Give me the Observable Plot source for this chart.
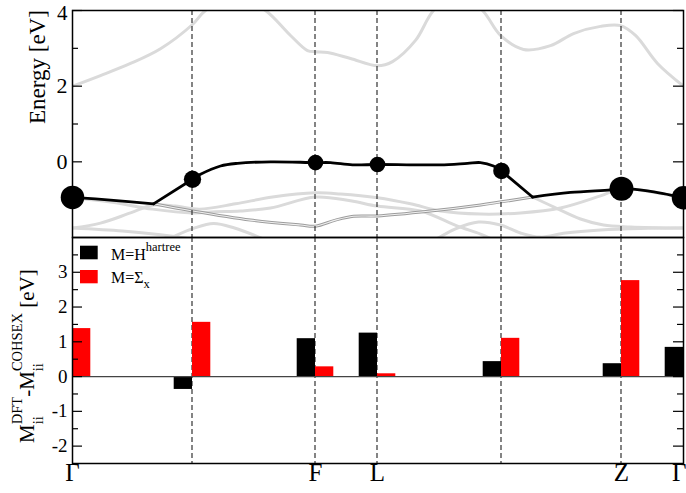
<!DOCTYPE html>
<html><head><meta charset="utf-8">
<script src="https://cdn.jsdelivr.net/npm/d3@7"></script>
<script src="https://cdn.jsdelivr.net/npm/@observablehq/plot@0.6"></script>
<style>
body{margin:0;background:#fff}
#chart{width:686px;height:493px;overflow:hidden}
#chart svg{display:block}
</style>
</head><body><div id="chart"></div>
<script>
// ---------- k-path ----------
const kAxisLabels = ["Γ","F","L","Z","Γ"];
const kAxisPos = [0,243,305,549,611];
const kSymPos = [120,243,305,429,549];          // dashed vertical lines
const kPoints = [0,120,243,305,429,549,611];    // points where the band / bars are evaluated

// ---------- top panel: band structure (eV) ----------
const cbK = [0,28,58,88,120,133,163,193,218,235,243,255,278,305,320,343,361,385,410,428,451,478,501,528,548,563,585,611];
const cbE = [2.0,2.28,2.60,2.99,3.63,4.0,4.40,4.0,3.34,2.94,2.91,2.89,2.73,2.54,2.65,3.21,4.0,4.48,4.0,3.34,2.97,3.07,3.39,3.58,3.60,3.34,2.60,2.0];

const g1K = [0,38,80,120,143,168,198,243,278,305,348,385,408,423];
const g1E = [-0.95,-1.06,-1.25,-1.35,-1.32,-1.30,-1.22,-0.93,-1.03,-1.17,-1.30,-1.70,-1.91,-2.09];
const g2K = [0,28,58,81,103,127,163,200,243,268,305,338,368,408,448,488,528,549,578,611];
const g2E = [-1.75,-1.62,-1.35,-1.14,-1.17,-1.25,-1.11,-0.93,-0.82,-0.85,-0.95,-1.11,-1.30,-1.38,-1.35,-1.22,-0.90,-0.71,-0.79,-0.95];
const g3K = [460,481,508,531,558,611];
const g3E = [-0.93,-1.19,-1.51,-1.67,-1.72,-1.75];
const g4K = [0,50,88,118,140];
const g4E = [-1.75,-1.83,-1.93,-2.04,-2.15];
const g5K = [95,121,141,162,190];
const g5E = [-2.05,-1.76,-1.63,-1.75,-2.03];
const g6K = [361,383,406,428,448,468,493,528,568,611];
const g6E = [-2.09,-1.77,-1.59,-1.67,-1.88,-1.99,-1.88,-1.80,-1.76,-1.75];

const dblK = [81,120,178,228,243,263,281,305,358,408,460];
const dblE = [-1.11,-1.30,-1.54,-1.67,-1.70,-1.54,-1.44,-1.43,-1.30,-1.14,-0.93];

const hbK = [0,38,81, 81,120, 120,128,148,165,198,243,258,280,305,340,368,395,408,421,429, 429,460, 460,498,538,549,575,611];
const hbE = [-0.94,-1.01,-1.11, -1.11,-0.46, -0.46,-0.33,-0.11,-0.04,0.0,-0.02,-0.02,-0.08,-0.07,-0.08,-0.08,-0.04,-0.02,-0.11,-0.24, -0.24,-0.93, -0.93,-0.81,-0.74,-0.71,-0.77,-0.95];
const hbPart = [1,1,1, 2,2, 3,3,3,3,3,3,3,3,3,3,3,3,3,3,3, 4,4, 5,5,5,5,5,5];
const straightParts = [2,4];

const dotE = [-0.94,-0.46,-0.02,-0.07,-0.24,-0.71,-0.95];
const dotWeight = [0.98,0.72,0.65,0.65,0.69,1.0,0.98];

const topMajor = [0,2,4];
const topMinor = [-1,1,3];

// ---------- bottom panel: M_ii^DFT - M_ii^COHSEX (eV) ----------
const hartree = [0.84,-0.37,1.09,1.25,0.43,0.37,0.84];
const sigmaX  = [1.38,1.56,0.28,0.08,1.10,2.76,1.38];
const botMajor = [-2,-1,0,1,2,3];
const botMajorLabels = ["-2","-1","0","1","2","3"];
const botMinor = [-1.5,-0.5,0.5,1.5,2.5,3.5];

// ---------- build ----------
const kMin = 0, kMax = 611, majLen = 10, minLen = 6, barW = 18.3;
const serif = "'Liberation Serif', 'Times New Roman', serif";
const rec = (ks, es, id) => ks.map((k,i)=>({k, E: es[i], id}));
const grayData = [].concat(rec(g1K,g1E,"g1"),rec(g2K,g2E,"g2"),rec(g3K,g3E,"g3"),rec(g4K,g4E,"g4"),rec(g5K,g5E,"g5"),rec(g6K,g6E,"g6"));
const cbData = rec(cbK, cbE, "cb");
const dblData = rec(dblK, dblE, "d");
const hbData = hbK.map((k,i)=>({k, E: hbE[i], part: hbPart[i]}));
const dots = kPoints.map((k,i)=>({k, E: dotE[i], w: dotWeight[i]}));

function tickMarks(major, minor){
  return [
    Plot.ruleY(major, {y: d=>d, x1: kMin, x2: kMin+majLen, stroke:"black", strokeWidth:1.2}),
    Plot.ruleY(major, {y: d=>d, x1: kMax-majLen, x2: kMax, stroke:"black", strokeWidth:1.2}),
    Plot.ruleY(minor, {y: d=>d, x1: kMin, x2: kMin+minLen, stroke:"black", strokeWidth:1.2}),
    Plot.ruleY(minor, {y: d=>d, x1: kMax-minLen, x2: kMax, stroke:"black", strokeWidth:1.2})
  ];
}

const topPlot = Plot.plot({
  width: 686, height: 237, marginLeft: 72, marginRight: 3, marginTop: 10, marginBottom: 0,
  x: {domain: [kMin, kMax], axis: null},
  y: {domain: [-2, 4], axis: null},
  r: {type: "linear", domain: [0, 1], range: [0, 12]},
  style: {fontFamily: serif, background: "white", overflow: "visible", color: "black"},
  marks: [
    Plot.line(grayData, {x:"k", y:"E", z:"id", curve:"catmull-rom", stroke:"#dadada", strokeWidth:3, clip:true}),
    Plot.line(cbData, {x:"k", y:"E", curve:"catmull-rom", stroke:"#dadada", strokeWidth:3, clip:true}),
    Plot.line(dblData, {x:"k", y:"E", curve:"catmull-rom", stroke:"#9c9c9c", strokeWidth:3, clip:true}),
    Plot.line(dblData, {x:"k", y:"E", curve:"catmull-rom", stroke:"#f0f0f0", strokeWidth:1.1, clip:true}),
    Plot.ruleX(kSymPos, {stroke:"#333", strokeWidth:1.2, strokeDasharray:"5,3", dx:-0.5}),
    Plot.line(hbData.filter(d=>!straightParts.includes(d.part)), {x:"k", y:"E", z:"part", curve:"catmull-rom", stroke:"black", strokeWidth:2.8}),
    Plot.line(hbData.filter(d=>straightParts.includes(d.part)), {x:"k", y:"E", z:"part", curve:"linear", stroke:"black", strokeWidth:2.8}),
    Plot.dot(dots, {x:"k", y:"E", r:"w", fill:"black"}),
    ...tickMarks(topMajor, topMinor),
    Plot.frame({stroke:"black", strokeWidth:1.5}),
    Plot.text(topMajor.filter(d=>d<4), {y: d=>d, text: d=>String(d), frameAnchor:"left", textAnchor:"end", dx:-5, fontSize:22, fill:"black"}),
    Plot.text(topMajor.filter(d=>d===4), {y: d=>d, text: d=>String(d), frameAnchor:"left", textAnchor:"end", lineAnchor:"top", dx:-5, dy:-5, fontSize:21, fill:"black"}),
    Plot.text(["Energy [eV]"], {text: d=>d, frameAnchor:"left", rotate:-90, dx:-35, fontSize:23, fill:"black"})
  ]
});

const hartreeData = kPoints.map((k,i)=>({k, v: hartree[i]}));
const sigmaData = kPoints.map((k,i)=>({k, v: sigmaX[i]}));
const xLab = kAxisPos.map((k,i)=>({k, s: kAxisLabels[i], last: i === kAxisPos.length-1}));

const bottomPlot = Plot.plot({
  width: 686, height: 256, marginLeft: 72, marginRight: 3, marginTop: 0, marginBottom: 30,
  x: {domain: [kMin, kMax], axis: null},
  y: {domain: [-2.5, 4], axis: null},
  style: {fontFamily: serif, background: "white", overflow: "visible", color: "black"},
  marks: [
    Plot.ruleX(kSymPos, {stroke:"#333", strokeWidth:1.2, strokeDasharray:"5,3", dx:-0.5}),
    Plot.rect(hartreeData, {x1: d=>d.k-barW, x2: d=>d.k, y1: 0, y2: "v", fill:"black", clip:true}),
    Plot.rect(sigmaData, {x1: d=>d.k, x2: d=>d.k+barW, y1: 0, y2: "v", fill:"#ff0000", clip:true}),
    Plot.ruleY([0], {stroke:"#444", strokeWidth:1.4}),
    ...tickMarks(botMajor, botMinor),
    Plot.frame({stroke:"black", strokeWidth:1.5}),
    Plot.text(botMajor, {y: d=>d, text: (d,i)=>botMajorLabels[i], frameAnchor:"left", textAnchor:"end", dx:-5, fontSize:19, fill:"black"}),
    Plot.text(xLab.filter(d=>!d.last), {x:"k", text:"s", frameAnchor:"bottom", dy:17, fontSize:25, fill:"black"}),
    Plot.text(xLab.filter(d=>d.last), {x:"k", text:"s", frameAnchor:"bottom", dy:17, dx:3, textAnchor:"end", fontSize:25, fill:"black"})
  ]
});

// legend + rich y label for the lower panel
const bs = d3.select(bottomPlot);
const lg = bs.append("g").attr("font-family", serif).attr("fill", "black").attr("text-anchor","start");
lg.append("rect").attr("x",80).attr("y",8.7).attr("width",17.7).attr("height",13.6).attr("fill","black");
lg.append("rect").attr("x",80).attr("y",33).attr("width",17.7).attr("height",13.3).attr("fill","#ff0000");
const t1 = lg.append("text").attr("x",111).attr("y",23).attr("font-size",16);
t1.append("tspan").text("M=H");
t1.append("tspan").attr("font-size",12.5).attr("dy",-9).text("hartree");
const t2 = lg.append("text").attr("x",111).attr("y",46).attr("font-size",16);
t2.append("tspan").text("M=Σ");
t2.append("tspan").attr("font-size",12.5).attr("dy",5).text("x");

const yl = bs.append("text").attr("font-family", serif).attr("fill","black").attr("text-anchor","start")
  .attr("transform","translate(33.5,206) rotate(-90)").attr("font-size",21);
yl.append("tspan").text("M");
yl.append("tspan").attr("font-size",14.5).attr("dy",9).text("ii");
yl.append("tspan").attr("font-size",14.5).attr("dx",-8).attr("dy",-20.5).text("DFT");
yl.append("tspan").attr("dy",11.5).text("-M");
yl.append("tspan").attr("font-size",14.5).attr("dy",9).text("ii");
yl.append("tspan").attr("font-size",14.5).attr("dx",-8).attr("dy",-20.5).text("COHSEX");
yl.append("tspan").attr("dy",11.5).text(" [eV]");

const chart = document.getElementById("chart");
chart.append(topPlot, bottomPlot);
</script></body></html>
